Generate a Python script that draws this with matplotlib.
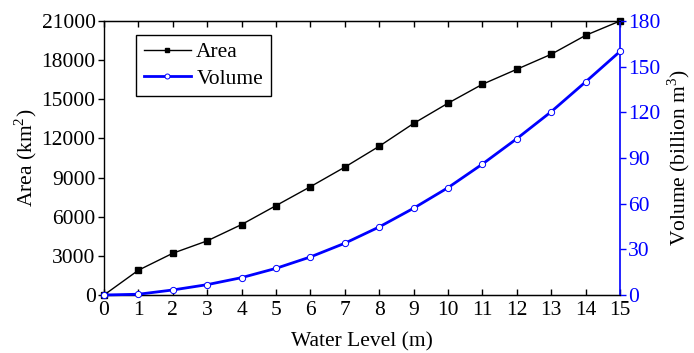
import matplotlib
matplotlib.use("Agg")
import matplotlib.pyplot as plt

water_level = list(range(16))
area = [0, 1900, 3200, 4150, 5400, 6850, 8300, 9800, 11400, 13150, 14700, 16150, 17300, 18450, 19900, 21000]
volume = [0, 0.5, 3.3, 6.8, 11.4, 17.5, 25, 34, 44.7, 57, 70.5, 86, 102.7, 120.4, 140, 160]

plt.rcParams['font.family'] = ['Liberation Serif', 'DejaVu Serif']
plt.rcParams['mathtext.fontset'] = 'custom'
plt.rcParams['mathtext.rm'] = 'Liberation Serif'
plt.rcParams['font.size'] = 15.5

fig = plt.figure(figsize=(6.94, 3.53), dpi=100)
ax = fig.add_axes([104/694, 1-295/353, (620-104)/694, (295-21)/353])
ax2 = ax.twinx()

l1, = ax.plot(water_level, area, color='black', lw=1, marker='s', ms=4,
              mfc='black', mec='black', label='Area', clip_on=False, zorder=3)
l2, = ax2.plot(water_level, volume, color='blue', lw=2, marker='o', ms=4.5,
               mfc='white', mec='blue', mew=0.7, label='Volume', clip_on=False, zorder=3)

ax.set_xlim(0, 15)
ax.set_ylim(0, 21000)
ax2.set_ylim(0, 180)
ax.set_xticks(range(16))
ax.set_yticks(range(0, 21001, 3000))
ax2.set_yticks(range(0, 181, 30))

ax.tick_params(axis='x', direction='in', top=True, length=4, width=1, pad=4)
ax.tick_params(axis='y', direction='out', length=4, width=1, pad=2)
ax2.tick_params(axis='y', direction='out', length=4, width=1, colors='blue', pad=2)
ax2.spines['right'].set_color('blue')
ax2.spines['right'].set_linewidth(1.2)
ax2.spines['left'].set_visible(False)
for s in ['top', 'bottom', 'left']:
    ax.spines[s].set_linewidth(1)
ax.spines['right'].set_visible(False)

ax.set_xlabel('Water Level (m)', labelpad=9)
ax.set_ylabel(r'Area (km$^\mathrm{2}$)', labelpad=2)
ax2.set_ylabel(r'Volume (billion m$^\mathrm{3}$)', labelpad=3)

leg = ax.legend(handles=[l1, l2], loc='upper left', bbox_to_anchor=(0.062, 0.95),
                frameon=True, fancybox=False, edgecolor='black', framealpha=1,
                handlelength=2.2, handletextpad=0.25, borderpad=0.35, labelspacing=0.3,
                markerscale=0.8, borderaxespad=0)
leg.get_frame().set_linewidth(1)

fig.savefig('out.png', dpi=100)
